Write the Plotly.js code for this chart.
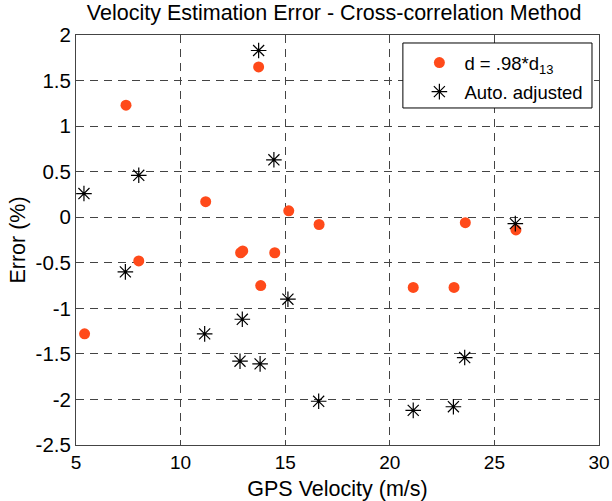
<!DOCTYPE html>
<html>
<head>
<meta charset="utf-8">
<script src="https://cdn.plot.ly/plotly-3.0.1.min.js"></script>
<style>html,body{margin:0;padding:0;background:#fff;}#chart{width:612px;height:501px;}</style>
</head>
<body>
<div id="chart"></div>
<script>
// Series 1: d = .98*d13
const dotX = [5.41, 7.39, 8.0, 11.2, 12.87, 12.97, 13.73, 13.83, 14.5, 15.17, 16.62, 21.12, 23.07, 23.61, 26.03];
const dotY = [-1.28, 1.23, -0.48, 0.17, -0.39, -0.37, 1.65, -0.75, -0.39, 0.07, -0.08, -0.77, -0.77, -0.06, -0.14];
// Series 2: Auto. adjusted
const starX = [5.38, 7.36, 8.0, 11.15, 12.84, 12.95, 13.73, 13.8, 14.46, 15.13, 16.6, 21.12, 23.04, 23.58, 26.0];
const starY = [0.26, -0.6, 0.46, -1.28, -1.58, -1.12, 1.83, -1.61, 0.63, -0.9, -2.02, -2.12, -2.08, -1.54, -0.07];
const xTicks = [5, 10, 15, 20, 25, 30];
const yTicks = [-2.5, -2, -1.5, -1, -0.5, 0, 0.5, 1, 1.5, 2];
const yTickText = ['-2.5', '-2', '-1.5', '-1', '-0.5', '0', '0.5', '1', '1.5', '2'];

const font = 'Liberation Sans, Arial, Helvetica, sans-serif';

const traces = [
  {
    x: dotX, y: dotY, type: 'scatter', mode: 'markers',
    name: 'd = .98*d<sub>13</sub>', legendgroup: 'a',
    marker: {symbol: 'circle', size: 11, color: '#ff4a1a'}
  },
  {
    x: starX, y: starY, type: 'scatter', mode: 'markers',
    name: 'Auto. adjusted', legendgroup: 'b',
    marker: {symbol: 'asterisk-open', size: 13, color: '#000', line: {color: '#000', width: 1.2}}
  }
];

const axisCommon = {
  showline: true, mirror: 'ticks', linecolor: '#444', linewidth: 1,
  ticks: 'inside', ticklen: 5, tickcolor: '#444',
  showgrid: true, gridcolor: '#444', gridwidth: 1, griddash: '8px,6px',
  zeroline: false
};

const layout = {
  width: 612, height: 501,
  margin: {l: 76, r: 13, t: 35, b: 56},
  paper_bgcolor: '#fff', plot_bgcolor: '#fff',
  font: {family: font, color: '#000'},
  title: {text: 'Velocity Estimation Error - Cross-correlation Method', font: {family: font, size: 21.5, color: '#000'},
          xref: 'container', x: 0.546, xanchor: 'center', yref: 'container', y: 0.976, yanchor: 'middle'},
  xaxis: Object.assign({}, axisCommon, {
    range: [5, 30], tickvals: xTicks, ticktext: xTicks.map(String),
    tickfont: {family: font, size: 19, color: '#000'},
    title: {text: 'GPS Velocity (m/s)', font: {family: font, size: 21.5, color: '#000'}, standoff: 10}
  }),
  yaxis: Object.assign({}, axisCommon, {
    range: [-2.5, 2], tickvals: yTicks, ticktext: yTickText,
    tickfont: {family: font, size: 20.5, color: '#000'},
    title: {text: 'Error (%)', font: {family: font, size: 21.5, color: '#000'}, standoff: 4}
  }),
  shapes: [{
    type: 'rect', xref: 'paper', yref: 'paper', layer: 'above',
    x0: 0.625, x1: 0.9866, y0: 0.822, y1: 0.9805,
    fillcolor: '#fff', line: {color: '#000', width: 1}
  }],
  showlegend: true,
  legend: {
    x: 0.647, xanchor: 'left', y: 0.978, yanchor: 'top',
    bgcolor: 'rgba(0,0,0,0)', borderwidth: 0,
    font: {family: font, size: 18.5, color: '#000'},
    itemsizing: 'trace', itemwidth: 40,
    traceorder: 'grouped', tracegroupgap: 2
  }
};

Plotly.newPlot('chart', traces, layout, {displayModeBar: false, staticPlot: true});
</script>
</body>
</html>
